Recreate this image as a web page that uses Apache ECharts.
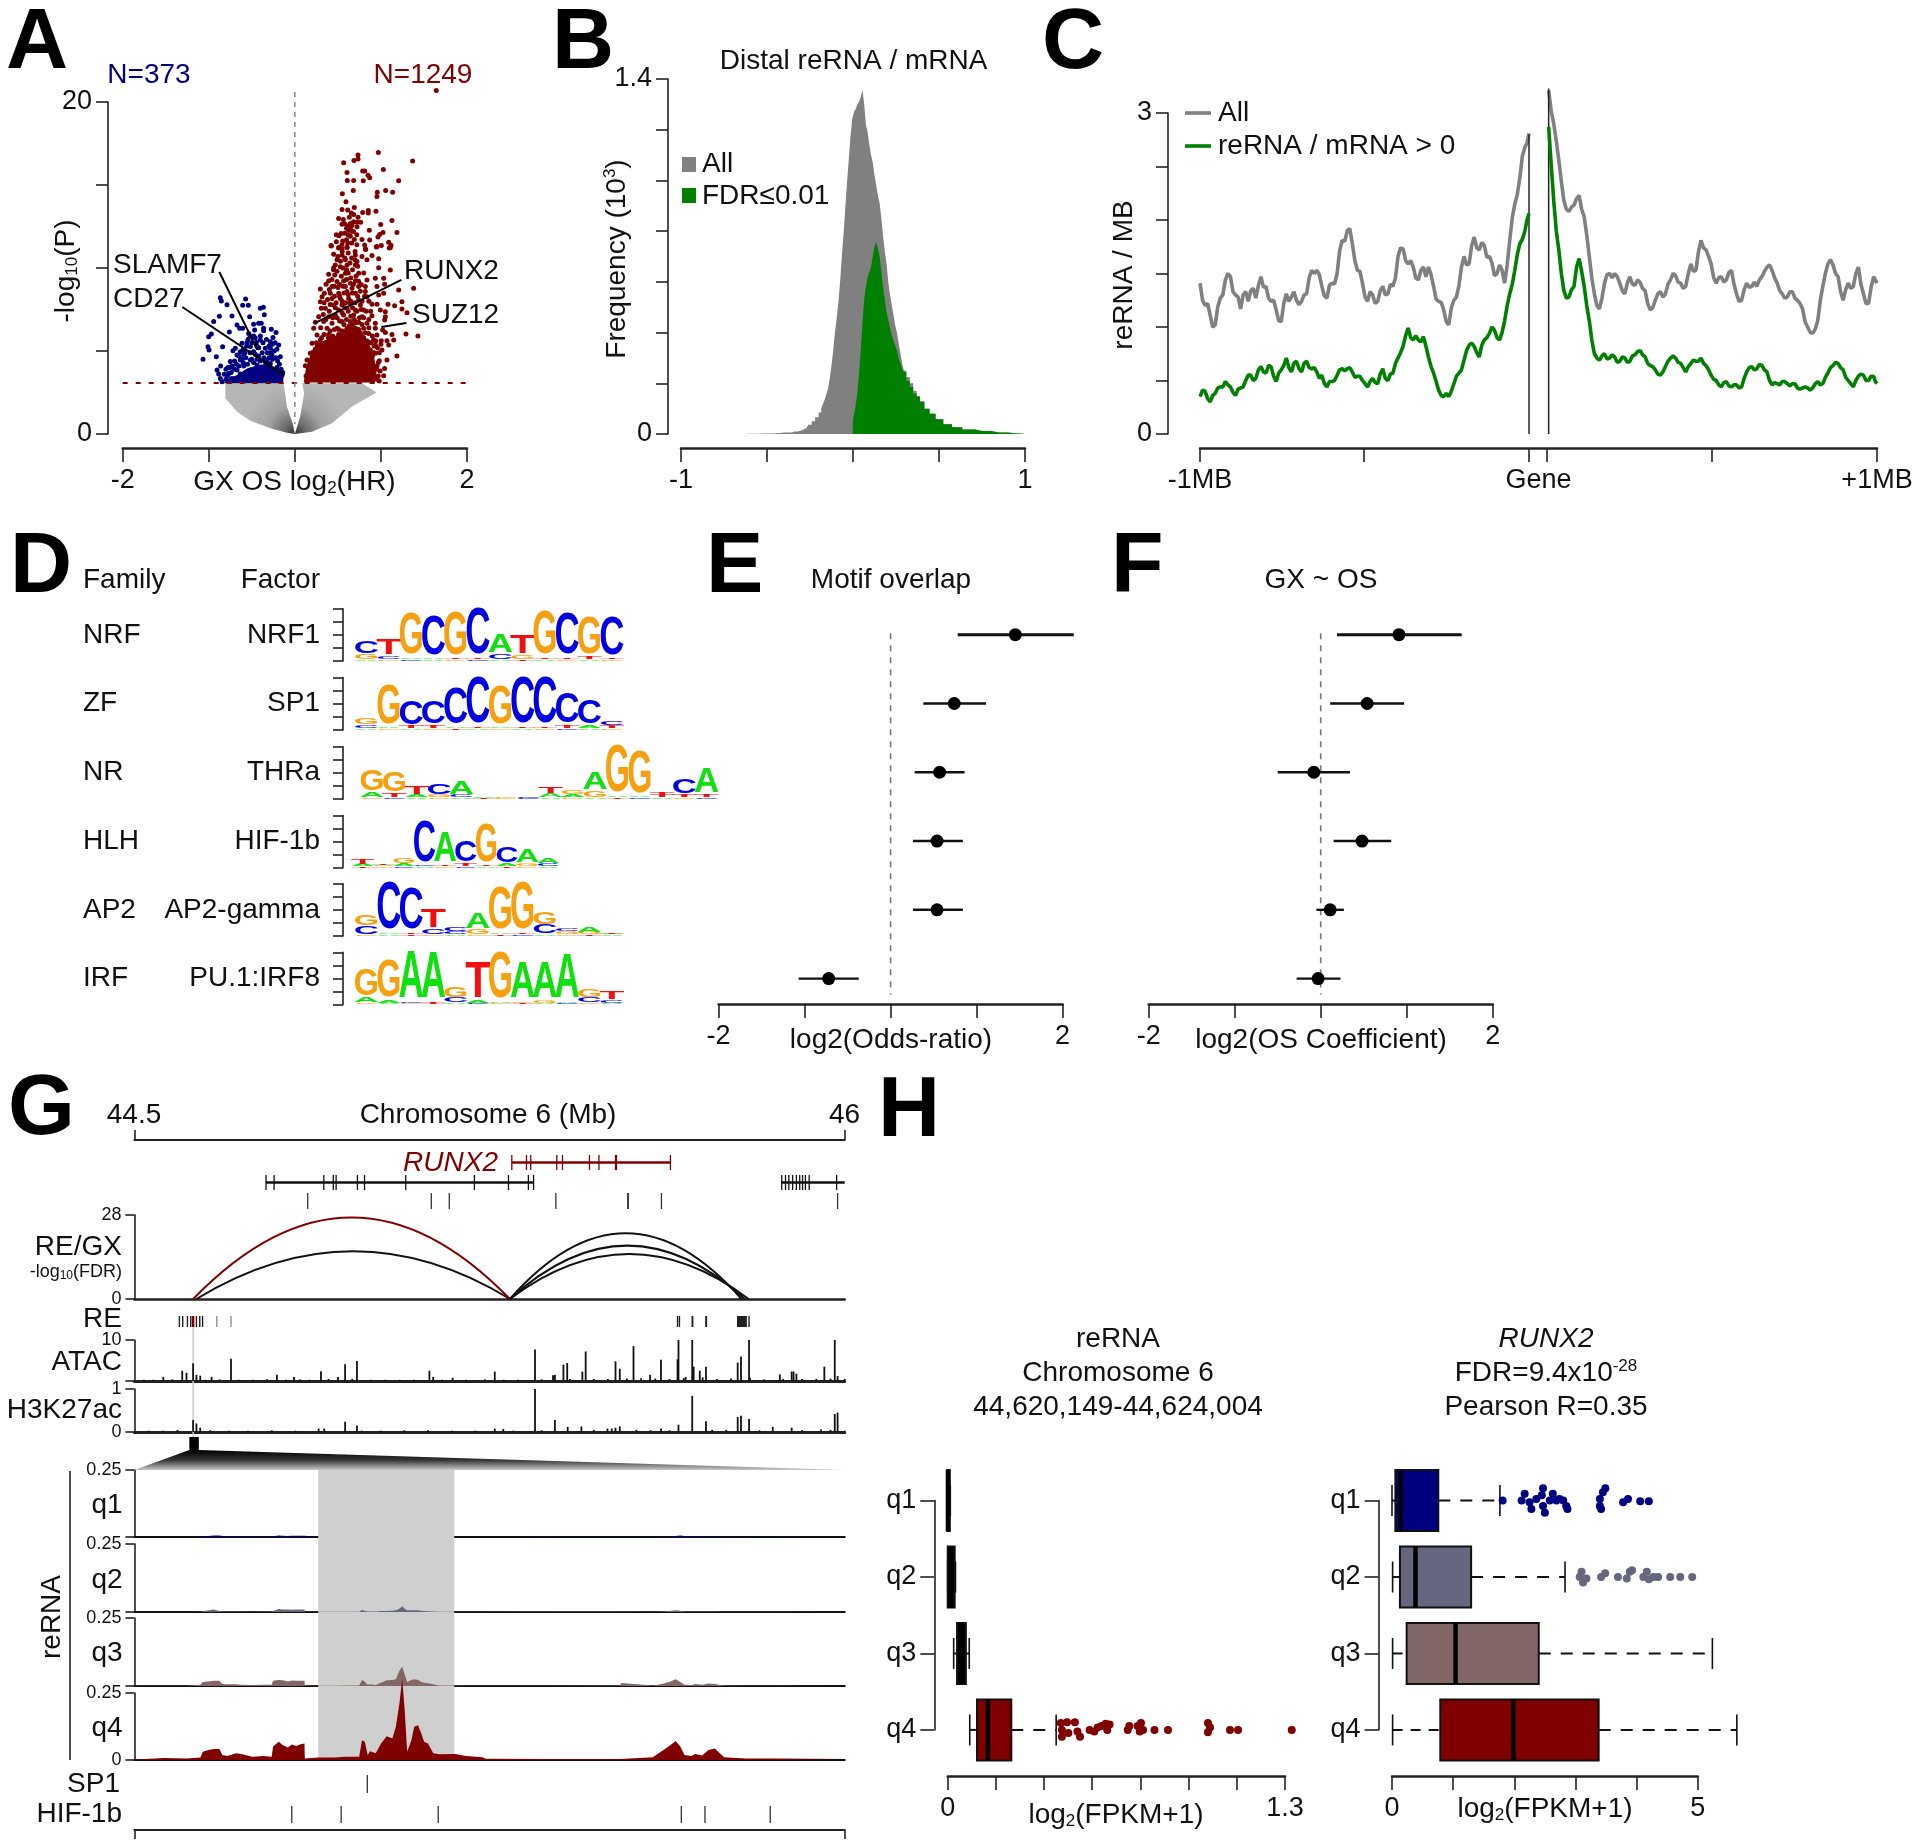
<!DOCTYPE html>
<html><head><meta charset="utf-8">
<style>html,body{margin:0;padding:0;background:#fff}#c{width:1920px;height:1847px}</style>
<script src="https://cdn.jsdelivr.net/npm/echarts@6/dist/echarts.min.js"></script>
</head><body><div id="c"></div>
<script>
// ---------- Panel A: volcano ----------
const volcanoRed=[[1.643,20.70],[.970,16.96],[.734,16.80],[.734,16.56],[.687,16.48],[.567,16.34],[1.368,16.44],[1.028,15.94],[.788,15.84],[.811,15.84],[.606,15.76],[.850,15.58],[.869,15.44],[.610,15.27],[.683,15.27],[.795,15.25],[1.206,15.25],[.679,14.67],[.958,14.57],[1.055,14.67],[1.136,14.57],[.552,14.47],[.954,14.31],[.594,13.99],[.548,13.53],[.614,13.49],[.691,13.65],[.853,13.47],[.853,13.32],[.788,13.34],[.942,13.42],[.656,13.32],[.683,13.22],[.633,13.06],[.734,13.06],[.509,12.98],[.563,12.92],[1.128,12.86],[.683,12.78],[.722,12.76],[.764,12.76],[.645,12.68],[.548,12.64],[.579,12.66],[.625,12.54],[.664,12.58],[.722,12.48],[.997,12.62],[.645,12.38],[.865,12.28],[.664,12.22],[.625,12.28],[1.024,12.14],[1.186,12.14],[.536,12.08],[.482,12.00],[.513,11.94],[.985,12.02],[.645,11.92],[.966,11.86],[.691,11.72],[.780,11.72],[.869,11.68],[.482,11.58],[.556,11.62],[.614,11.50],[.420,11.35],[.548,11.42],[1.090,11.55],[1.117,11.37],[1.004,11.35],[.946,11.27],[.811,11.39],[1.097,11.21],[.606,11.25],[.509,11.21],[.548,11.15],[.823,11.11],
[.424,11.33],[.509,11.23],[.606,11.23],[.819,11.15],[.954,11.29],[1.109,11.23],[.451,10.83],[.548,10.79],[.703,10.79],[.780,10.69],[.896,10.75],[.974,10.55],[.490,10.49],[.587,10.49],[.722,10.39],[.838,10.49],[.470,10.18],[.528,10.08],[.606,10.18],[.703,10.18],[.974,10.02],[1.109,9.88],[.393,9.62],[.463,9.58],[.587,9.68],[.741,9.68],[.451,10.02],[.393,9.22],[.490,9.18],[.567,9.22],[.645,9.08],[.703,9.22],[.838,9.28],[.935,9.38],[1.032,9.38],[.362,9.02],[.432,8.88],[.501,8.82],[.587,8.88],[.664,8.78],[.741,8.88],[.819,8.88],[.296,8.74],[.343,8.48],[.412,8.48],[.509,8.48],[.606,8.58],[.703,8.48],[.819,8.58],[.954,8.88],[1.043,9.02],[1.206,8.68],[1.380,8.78],[.316,8.27],[.432,8.17],[.528,8.17],[.625,8.17],[.741,8.07],[.838,8.27],[.974,8.37],[1.032,8.48],[.296,7.97],[.451,7.77],[.548,7.77],[.645,7.87],[.761,7.77],[.896,7.81],[.954,7.81],[1.082,7.81],[1.159,7.73],[1.244,7.97],[.354,7.57],[.509,7.47],[.606,7.57],[.703,7.47],[.799,7.47],[.993,7.47],[.308,7.57],[1.051,7.37],[1.244,7.53],[1.303,7.31],[.277,7.07],[.393,7.07],[.470,7.17],[.567,7.17],[.683,7.17],[.780,7.07],[.896,7.13],[1.051,7.07],[.238,6.73],[.335,6.77],[.432,6.67],[.548,6.77],[.645,6.77],[.741,6.73],[.838,6.67],[.935,6.67],[1.043,6.87],[.219,6.37],[.374,6.37],[.490,6.37],[.606,6.37],[.703,6.37],[.799,6.37],[.935,6.37],[1.020,6.27],[1.051,6.12],[.258,5.96],[.393,6.00],[.509,6.00],[.625,6.06],[.741,5.96],[.857,6.06],[.954,5.96],[1.128,6.00],[1.291,6.02],[1.430,5.90],[.296,5.66],[.432,5.66],[.587,5.66],[.761,5.66],[.915,5.66],[1.004,5.62],[1.070,5.62],[1.148,5.66],[.200,5.46],[.354,5.36],[.509,5.36],[.664,5.36],[.819,5.36],[.935,5.36],[1.090,5.36],[1.012,5.06],[.238,5.12],[.393,5.06],[.567,5.06],[.741,5.06],[.877,5.06],[1.186,4.70],[.180,4.86],[.335,4.76],[.490,4.76],[.664,4.76],[.819,4.76],[.935,4.86],[.141,4.46],[.122,4.11],[1.043,3.95],[.981,4.41],[1.070,4.46],[.954,4.11],[1.032,3.51],[.935,3.35],
[.25,5.5],[.28,5.3],[.31,5.8],[.34,6.0],[.36,5.5],[.39,5.8],[.41,6.2],[.44,5.9],[.46,6.3],[.48,5.7],[.51,6.3],[.53,5.9],[.55,6.2],[.57,6.6],[.59,6.0],[.61,5.8],[.63,6.5],[.65,6.1],[.67,6.6],[.69,6.0],[.71,6.7],[.72,5.9],[.74,6.3],[.76,6.1],[.78,6.6],[.80,5.8],[.82,6.1],[.84,5.6],[.86,6.4],[.88,5.5],[.90,5.9],[.92,5.3],[.94,5.6],[.96,5.2],[.98,4.9],[.97,4.3],[.95,3.9],[1.0,5.4],[.3,6.4],[.33,7.2],[.36,6.9],[.40,7.4],[.44,7.0],[.47,7.6],[.49,7.0],[.52,6.8],[.55,7.3],[.58,7.6],[.60,6.9],[.62,7.4],[.65,7.1],[.67,7.6],[.69,6.9],[.72,7.4],[.75,7.0],[.77,7.5],[.80,7.0],[.83,7.4],[.86,6.9],[.88,7.4],[.34,7.9],[.38,8.1],[.41,7.8],[.46,8.3],[.48,7.9],[.52,8.3],[.55,8.0],[.57,8.5],[.59,7.9],[.62,8.4],[.65,8.0],[.67,8.5],[.70,7.9],[.73,8.3],[.76,8.6],[.78,8.0],[.81,8.3],[.86,8.0],[.40,8.7],[.43,9.3],[.46,8.9],[.52,9.0],[.54,9.5],[.56,8.9],[.60,9.3],[.62,9.7],[.65,9.4],[.68,9.0],[.71,9.5],[.74,9.2],[.77,9.0],[.45,9.9],[.49,9.8],[.53,10.4],[.56,10.0],[.60,9.9],[.64,10.3],[.67,9.9],[.70,10.5],[.73,10.1],[.80,9.7],[.50,10.7],[.55,11.0],[.58,10.6],[.62,10.9],[.66,10.6],[.70,11.0],[.60,11.7],[.66,11.5],[.72,11.4],[.58,12.1],[.62,12.0],[.68,12.2],[.72,12.0],[.60,12.4],[.15,3.3],[.13,3.5],[.18,4.2],[.20,4.9],[.23,5.0],[.26,5.3],[.95,3.3],[.97,3.5],[.99,3.8],[.98,3.2],[.90,4.7],[.92,4.9]];
const volcanoBlue=[[-.866,8.21],[-.854,8.01],[-.788,7.79],[-.572,8.13],[-.606,7.75],[-.541,7.75],[-.401,7.57],[-.366,7.63],[-.877,7.09],[-.730,7.11],[-.525,7.07],[-.355,7.19],[-.943,6.77],[-.761,6.14],[-.672,6.57],[-.641,6.37],[-.606,6.37],[-.479,6.61],[-.421,6.67],[-.390,6.67],[-.467,6.27],[-.363,6.37],[-.363,6.22],[-.274,6.31],[-.219,6.12],[-.537,6.06],[-.970,6.02],[-1.001,5.86],[-.544,5.70],[-.479,5.90],[-.254,5.82],[-.401,5.66],[-.448,5.52],[-.556,5.50],[-.614,5.46],[-.285,5.56],[-.188,5.36],[-1.009,5.26],[-.997,5.06],[-.839,5.26],[-.692,5.16],[-.517,5.26],[-.208,5.10],[-.719,5.02],[-.634,4.96],[-.479,4.96],[-.343,5.16],[-.285,5.16],[-.912,4.66],[-.672,4.76],[-.595,4.76],[-.421,4.70],[-.266,4.76],[-.169,4.66],[-1.067,4.50],[-.750,4.36],[-.634,4.46],[-.517,4.46],[-.324,4.46],[-.862,4.09],[-.730,4.09],[-.595,4.09],[-.440,4.15],[-.285,4.25],[-.777,4.01],[-.904,3.85],[-.672,3.85],[-.517,3.85],[-.363,3.95],[-.208,4.01],[-.885,3.61],[-.769,3.65],[-.634,3.61],[-.479,3.61],[-.324,3.65],[-.150,3.55],[-.866,3.35],[-.730,3.35],[-.595,3.35],[-.421,3.35],[-.266,3.35],[-.846,3.15],
[-.80,3.3],[-.78,3.5],[-.74,3.7],[-.70,3.9],[-.68,4.2],[-.65,4.1],[-.62,4.5],[-.60,4.3],[-.57,4.6],[-.55,4.2],[-.52,4.9],[-.50,4.5],[-.48,4.3],[-.46,4.8],[-.44,4.5],[-.42,5.2],[-.40,4.4],[-.38,4.9],[-.36,4.6],[-.34,4.3],[-.32,4.9],[-.30,4.6],[-.28,4.9],[-.26,4.5],[-.24,5.0],[-.22,4.6],[-.20,4.4],[-.18,4.2],[-.16,3.9],[-.14,3.7],[-.60,5.1],[-.56,5.3],[-.50,5.5],[-.46,5.8],[-.44,5.3],[-.40,5.9],[-.37,5.5],[-.33,5.7],[-.30,5.3],[-.26,5.4],[-.23,5.5],[-.52,5.9],[-.58,4.9],[-.65,4.7],[-.70,4.4],[-.75,4.0],[-.82,3.6],[-.80,3.9]];
const denseRed=[[.103,3.1],[.13,4.0],[.19,4.9],[.27,5.5],[.38,5.7],[.5,6.0],[.62,6.5],[.74,6.4],[.84,5.7],[.92,4.7],[.95,3.6],[.93,3.1]];
const denseBlue=[[-.827,3.05],[-.769,3.35],[-.672,3.55],[-.556,3.95],[-.421,4.15],[-.305,4.25],[-.208,3.85],[-.130,3.45],[-.138,3.05]];
const denseGreyLeft=[[-.808,3.05],[-.808,2.15],[-.672,1.34],[-.517,.80],[-.285,.34],[-.092,.08],[0,0],[-.025,.64],[-.092,1.64],[-.130,3.05]];
const denseGreyRight=[[.085,3.05],[.78,3.05],[.95,2.5],[.665,1.65],[.433,.65],[.2,.14],[0,0],[.062,1.05],[.108,2.45]];
const significanceP=3.07;
const leaders=[[[-.877,9.76],[-.436,5.06]],[[-1.307,7.65],[-.122,3.55]],[[1.237,9.28],[.238,6.69]],[[1.295,6.69],[1.005,6.45]]];
// ---------- Panel B: histogram ----------
const histAll=[[-.62,.001],[-.58,.001],[-.52,.002],[-.48,.002],[-.44,.004],[-.40,.006],[-.37,.006],[-.34,.010],[-.31,.012],[-.29,.017],[-.27,.024],[-.25,.036],[-.23,.050],[-.21,.066],[-.19,.085],[-.18,.10],[-.17,.118],[-.16,.135],[-.15,.158],[-.14,.178],[-.13,.22],[-.12,.27],[-.11,.33],[-.10,.40],[-.09,.455],[-.08,.52],[-.07,.60],[-.06,.70],[-.05,.79],[-.04,.89],[-.03,.99],[-.02,1.08],[-.01,1.17],[0,1.24],[.01,1.27],[.02,1.28],[.03,1.30],[.04,1.31],[.05,1.33],[.06,1.358],[.07,1.30],[.08,1.22],[.09,1.19],[.10,1.14],[.11,1.10],[.12,1.07],[.13,1.02],[.14,.98],[.15,.94],[.16,.91],[.17,.85],[.18,.78],[.19,.72],[.20,.67],[.21,.60],[.22,.55],[.23,.51],[.24,.47],[.25,.43],[.26,.40],[.27,.36],[.28,.32],[.29,.28],[.30,.25],[.32,.225],[.34,.20],[.36,.17],[.38,.15],[.40,.13],[.43,.10],[.46,.08],[.50,.058],[.55,.038],[.60,.027],[.67,.018],[.75,.012],[.85,.006],[.95,.002],[1,0]];
const histFDR=[[-.002,0],[0,.055],[.01,.075],[.02,.11],[.03,.16],[.04,.24],[.05,.33],[.06,.44],[.07,.53],[.08,.58],[.09,.62],[.10,.64],[.11,.66],[.12,.70],[.13,.74],[.14,.757],[.15,.73],[.16,.70],[.17,.64],[.18,.58],[.19,.53],[.20,.48],[.21,.45],[.22,.42],[.23,.39],[.24,.37],[.25,.35],[.26,.33],[.27,.30],[.28,.28],[.29,.26],[.30,.245],[.32,.21],[.34,.185],[.36,.16],[.38,.147],[.40,.125],[.43,.10],[.46,.08],[.50,.058],[.55,.038],[.60,.027],[.67,.018],[.75,.012],[.85,.006],[.95,.002],[1,0]];
// ---------- Panel C: reRNA density ----------
const cPosLeft=[-1000,-985,-970,-955,-940,-925,-910,-895,-880,-865,-850,-835,-820,-805,-790,-775,-760,-745,-730,-715,-700,-685,-670,-655,-640,-625,-610,-595,-580,-565,-550,-535,-520,-505,-490,-475,-460,-445,-430,-415,-400,-385,-370,-355,-340,-325,-310,-295,-280,-265,-250,-235,-220,-205,-190,-175,-160,-145,-130,-115,-100,-85,-70,-55,-40,-28];
const cPosRight=[30,45,60,75,90,105,120,135,150,165,180,195,210,225,240,255,270,285,300,315,330,345,360,375,390,405,420,435,450,465,480,495,510,525,540,555,570,585,600,615,630,645,660,675,690,705,720,735,750,765,780,795,810,825,840,855,870,885,900,915,930,945,960,975,990,1000];
const cAllLeft=[1.41,1.20,1.11,1.02,1.27,1.44,1.47,1.30,1.17,1.33,1.34,1.27,1.47,1.38,1.24,1.16,1.05,1.31,1.28,1.25,1.24,1.31,1.53,1.53,1.38,1.27,1.41,1.50,1.81,1.90,1.78,1.53,1.41,1.24,1.30,1.24,1.38,1.31,1.38,1.66,1.73,1.59,1.56,1.44,1.56,1.56,1.38,1.24,1.16,1.02,1.25,1.39,1.66,1.59,1.84,1.72,1.76,1.66,1.48,1.58,1.41,1.81,2.15,2.40,2.68,2.81];
const cAllLeftMid=[1.25,1.22,1.00,1.19,1.30,1.50,1.33,1.28,1.30,1.24,1.36,1.39,1.37,1.27,1.25,1.06,1.22,1.24,1.33,1.21,1.30,1.46,1.50,1.49,1.29,1.39,1.40,1.71,1.80,1.92,1.62,1.52,1.28,1.33,1.22,1.34,1.30,1.40,1.46,1.74,1.62,1.62,1.46,1.53,1.47,1.49,1.26,1.23,1.05,1.18,1.28,1.56,1.58,1.76,1.74,1.79,1.65,1.60,1.50,1.53,1.58,2.02,2.24,2.60,2.72];
const cGreenLeft=[.35,.40,.30,.38,.44,.49,.44,.36,.43,.50,.55,.52,.63,.57,.63,.49,.60,.71,.58,.68,.58,.68,.61,.58,.55,.44,.49,.55,.61,.61,.58,.54,.50,.44,.52,.47,.61,.50,.57,.71,.82,.99,.88,.88,.91,.72,.57,.41,.35,.35,.47,.57,.69,.83,.82,.72,.88,.94,.97,.88,1.06,1.31,1.53,1.78,1.90,2.06];
const cGreenLeftMid=[.41,.33,.36,.43,.44,.46,.39,.42,.44,.55,.50,.60,.58,.64,.54,.57,.64,.62,.66,.61,.66,.62,.62,.52,.47,.49,.50,.60,.59,.62,.53,.54,.47,.49,.48,.56,.52,.56,.66,.76,.92,.90,.92,.86,.82,.63,.49,.36,.38,.40,.54,.60,.78,.85,.76,.83,.90,1.00,.90,.95,1.20,1.40,1.68,1.82,2.00];
const cAllRight=[3.21,2.90,2.56,2.18,2.08,2.14,2.23,2.03,1.66,1.31,1.17,1.41,1.50,1.50,1.41,1.31,1.47,1.39,1.42,1.34,1.16,1.25,1.33,1.31,1.44,1.48,1.41,1.38,1.59,1.53,1.81,1.72,1.59,1.41,1.47,1.44,1.53,1.31,1.25,1.41,1.38,1.38,1.47,1.56,1.53,1.41,1.31,1.28,1.33,1.25,1.17,1.00,.94,1.06,1.38,1.59,1.58,1.47,1.25,1.41,1.38,1.56,1.31,1.22,1.47,1.41];
const cAllRightMid=[3.02,2.74,2.36,2.10,2.12,2.20,2.10,1.86,1.46,1.20,1.27,1.49,1.46,1.47,1.34,1.41,1.40,1.44,1.36,1.22,1.18,1.31,1.28,1.40,1.50,1.42,1.36,1.50,1.52,1.70,1.74,1.66,1.46,1.46,1.42,1.51,1.40,1.24,1.35,1.37,1.42,1.44,1.52,1.58,1.46,1.34,1.27,1.33,1.27,1.22,1.05,.95,.98,1.25,1.50,1.63,1.50,1.33,1.35,1.36,1.50,1.40,1.22,1.37,1.48];
const cGreenRight=[2.87,2.18,1.72,1.34,1.28,1.38,1.64,1.38,1.06,.75,.69,.75,.71,.72,.68,.71,.68,.74,.78,.72,.64,.60,.55,.63,.71,.71,.66,.58,.66,.68,.71,.64,.55,.50,.44,.49,.44,.46,.44,.58,.63,.61,.64,.58,.46,.47,.49,.47,.47,.43,.43,.43,.43,.49,.47,.57,.64,.66,.60,.50,.44,.54,.55,.50,.54,.47];
const cGreenRightMid=[2.52,1.90,1.50,1.27,1.35,1.56,1.52,1.20,.88,.71,.73,.70,.74,.67,.72,.67,.73,.77,.74,.66,.63,.56,.58,.68,.73,.67,.62,.63,.69,.68,.66,.60,.51,.46,.48,.45,.46,.43,.52,.62,.60,.65,.60,.50,.48,.46,.49,.45,.47,.42,.44,.41,.47,.46,.53,.62,.67,.62,.53,.47,.50,.56,.50,.54,.49];
// ---------- Panel D: motifs ----------
const families=['NRF','ZF','NR','HLH','AP2','IRF'];
const factors=['NRF1','SP1','THRa','HIF-1b','AP2-gamma','PU.1:IRF8'];
const logoMain=['CTGCGCATGCGC','GGCCCCGCCCCC','GGTCAAGCTGAGGTCA','TTGCACGCAA','GCCTCAGGGCAT','GGAAGTGAAAGT'];
const logoBits=[[.45,.6,1.55,1.5,1.65,1.75,.7,.7,1.65,1.55,1.4,1.45],[.25,1.5,.9,.85,1.35,1.75,1.45,1.75,1.75,1.15,.9,.15],[.8,.75,.3,.4,.5,.02,.02,.03,.25,.15,.65,1.85,1.6,.08,.55,.95],[.18,.03,.18,1.55,1.15,.8,1.45,.6,.5,.18],[.4,1.85,1.55,.7,.15,.6,1.6,1.85,.45,.12,.2,.03],[1.0,1.4,1.85,1.75,.4,1.35,1.75,1.35,1.35,1.7,.3,.3]];
const logoMinor=['GCAATTCGTTTT','CATTATATTTAT','ATAGCTAGAAGAATTT','AAACTTTAGC','CATCCGATCGGA','AACTCAAGGACC'];
const logoMinorBits=[[.18,.12,.05,.05,.03,.05,.2,.15,.05,.05,.08,.06],[.12,.05,.08,.1,.05,.03,.05,.03,.03,.1,.1,.12],[.2,.15,.12,.1,.1,0,0,0,.15,.12,.25,.05,.05,.08,.1,.1],[.08,.03,.1,.03,.05,.12,.05,.1,.12,.1],[.3,.03,.05,.2,.12,.18,.05,.03,.35,.1,.08,.03],[.2,.1,.03,.03,.2,.08,.03,.06,.08,.03,.2,.12]];
const logoLow=['AGCAGCATAGAG','AGAGTAGAGCAG','GCAGATGCAGATCAGC','TGCAGCATGA','GATGAGTCAGTA','GAGTACGTACGA'];
// ---------- Panels E, F ----------
const overlapEst=[1.45,.74,.57,.54,.54,-.72], overlapLo=[.78,.38,.28,.26,.26,-1.07], overlapHi=[2.13,1.11,.86,.84,.84,-.37];
const coefEst=[.91,.54,-.08,.48,.11,-.03], coefLo=[.19,.11,-.5,.15,-.05,-.28], coefHi=[1.64,.97,.34,.82,.27,.23];
// ---------- Panel G ----------
const runx2Span=[45.297,45.632], runx2Exons=[45.297,45.328,45.337,45.392,45.404,45.461,45.481,45.516,45.517,45.518,45.632];
const gene1Span=[44.778,45.343], gene1Exons=[44.778,44.795,44.900,44.920,44.926,44.971,44.986,45.073,45.218,45.290,45.332,45.343];
const gene2Span=[45.867,46], gene2Exons=[45.867,45.875,45.882,45.890,45.898,45.905,45.911,45.917,45.925,45.983];
const otherTicks=[44.866,45.127,45.165,45.390,45.542,45.543,45.613,45.985];
const arcStart=[44.631,44.624,45.293,45.293,45.293], arcEnd=[45.293,45.293,45.782,45.789,45.797], arcFDR=[15.9,27.2,21.9,17.8,15];
const reBlack=[44.595,44.602,44.612,44.619,44.631,44.638,44.644,45.647,45.651,45.678,45.679,45.707,45.708,45.774,45.776,45.778,45.780,45.782,45.784,45.786,45.788,45.790,45.792,45.798];
const reRed=[44.624], reGrey=[44.674,44.704];
const atacPos=[44.561,44.601,44.610,44.624,44.631,44.639,44.663,44.704,44.801,44.837,44.894,44.930,44.945,44.970,45.123,45.131,45.172,45.261,45.346,45.384,45.388,45.406,45.414,45.446,45.453,45.516,45.525,45.554,45.589,45.612,45.647,45.649,45.664,45.678,45.681,45.694,45.707,45.774,45.781,45.798,45.863,45.888,45.892,45.898,45.957,45.979,45.985,
44.52,44.54,44.58,44.65,44.68,44.72,44.75,44.78,44.82,44.85,44.87,44.91,44.96,45.00,45.03,45.06,45.09,45.15,45.20,45.24,45.28,45.31,45.36,45.42,45.47,45.50,45.54,45.57,45.60,45.63,45.66,45.70,45.73,45.76,45.80,45.83,45.87,45.91,45.94,45.97,46.0];
const atacVal=[1,2.5,2,4.3,1.5,1.3,1,5.4,1.5,1,2.4,1,4.1,4.9,2.5,1,.8,2.3,7.7,1.4,1.5,4,4.4,2.3,7.2,4.8,3,8.5,1.5,5.2,5.3,10,1,10,3.5,2.5,3.5,4.5,6,10,1.6,2.3,2.3,1.8,3.5,10,1.2,
.3,.3,.4,.3,.4,.3,.3,.4,.3,.4,.3,.5,.5,.3,.3,.3,.3,.3,.3,.4,.3,.3,.4,.5,.5,.5,.6,.7,.6,.5,.7,.9,.5,.6,.8,.4,.5,.5,.5,.6,.5];
const h3Pos=[45.346,45.678,45.781,45.774,45.798,45.707,45.649,45.388,44.945,44.970,44.624,44.631,44.639,45.979,45.985,45.444,45.415,44.889,44.901,44.591,45.525,45.516,45.508,45.499,45.612,45.848,45.888,45.950,45.261,45.279,
44.53,44.56,44.66,44.70,44.74,44.79,44.84,44.98,45.02,45.07,45.12,45.17,45.22,45.30,45.36,45.47,45.56,45.59,45.63,45.72,45.75,45.82,45.91,45.97,46.0];
const h3Val=[1,.84,.38,.35,.3,.25,.17,.28,.24,.15,.28,.2,.1,.42,.45,.13,.12,.08,.08,.05,.13,.1,.08,.08,.08,.12,.1,.06,.08,.07,
.03,.03,.04,.03,.03,.04,.03,.03,.03,.04,.04,.03,.03,.03,.04,.05,.05,.04,.04,.05,.05,.04,.04,.05,.03];
const qPos=[14.94,15.79,16.42,16.81,16.88,17.04,17.19,17.35,17.43,17.58,17.82,17.97,18.28,18.59,18.83,18.87,19.03,19.14,19.29,19.40,19.53,19.65,19.76,19.77,20.15,20.61,20.92,21.31,21.39,21.47,21.55,21.62,21.78,21.93,22.09,22.25,22.35,22.45,22.53,22.60,22.67,22.79,22.87,22.98,23.07,23.15,23.26,23.41,23.57,24.03,24.34,24.81,24.89,26.68,28.70,28.74,29.63,29.86,30.10,30.28,30.41,30.53,30.72,30.84,31.03,31.21,31.39,31.53,31.65,32.27,33.13,35.07];
const q4Signal=[.002,.007,.006,.009,.031,.037,.041,.041,.019,.015,.025,.022,.012,.015,.012,.050,.068,.056,.047,.058,.052,.059,.062,.006,.009,.009,.012,.012,.074,.068,.019,.033,.025,.062,.089,.080,.124,.210,.303,.186,.031,.074,.124,.130,.099,.068,.062,.025,.021,.022,.015,.010,.005,.004,.004,.010,.010,.031,.052,.071,.050,.019,.015,.022,.017,.037,.043,.025,.010,.006,.006,.004];
const q3Signal=[.001,.001,.001,.005,.015,.017,.019,.019,.007,.006,.006,.005,.004,.005,.005,.019,.022,.021,.017,.020,.019,.019,.019,.002,.001,.001,.002,.002,.022,.017,.005,.006,.004,.012,.021,.022,.025,.056,.071,.043,.015,.022,.025,.022,.015,.012,.010,.006,.002,.002,.001,.001,.001,.001,.002,.011,.002,.006,.015,.025,.015,.005,.004,.007,.005,.009,.007,.004,.002,.001,.001,.001];
const q2Signal=[0,0,0,.001,.003,.006,.009,.004,.002,.002,.002,.002,.001,.002,.002,.005,.011,.009,.009,.008,.009,.009,.009,.001,.001,.001,.001,.001,.007,.005,.002,.002,.002,.004,.004,.005,.006,.012,.021,.012,.006,.006,.006,.006,.005,.004,.003,.002,.001,.001,.001,.001,.001,.002,.002,.001,.001,.002,.004,.006,.005,.002,.002,.002,.002,.002,.002,.001,.001,.001,.001,0];
const q1Signal=[0,0,0,.001,.002,.004,.006,.006,.004,.003,.003,.003,.002,.002,.002,.004,.006,.005,.004,.005,.005,.005,.005,0,0,0,0,0,0,0,0,0,0,0,0,0,0,0,0,0,0,0,0,0,0,0,0,0,0,0,0,0,0,.001,.001,.001,.001,.001,.002,.004,.006,.004,.003,.003,.003,.003,.002,.002,.002,.001,.001,0];
const highlightKb=[20.149,24.004];
const sp1Sites=[21.54], hifSites=[19.40,20.80,23.55,30.44,31.11,32.96];
// ---------- Panel H ----------
const rowLabels=['q1','q2','q3','q4'];
const rerLo=[0,0,.023,.085], rerQ1=[-.002,.0,.036,.113], rerMed=[.001,.012,.052,.155], rerQ3=[.008,.027,.07,.245], rerHi=[.01,.03,.083,.418];
const runLo=[0,.01,.01,.01], runQ1=[.055,.13,.24,.79], runMed=[.14,.384,1.04,1.985], runQ3=[.757,1.294,2.40,3.38], runHi=[1.765,2.83,5.24,5.64];
const rerOutQ4=[[.436,-.09],[.44,0],[.44,.09],[.46,-.1],[.465,.04],[.49,-.1],[.50,.02],[.51,.09],[.547,0],[.565,.02],[.578,-.03],[.593,-.05],[.609,-.08],[.615,0],[.624,-.07],[.694,0],[.70,-.05],[.732,-.05],[.74,.02],[.745,-.09],[.753,0],[.797,0],[.849,0],[1.003,-.09],[1.011,-.03],[1.003,.03],[1.088,0],[1.119,0],[1.326,0]];
const runOutQ1=[[1.81,0],[2.12,0],[2.17,-.09],[2.25,.02],[2.28,.11],[2.36,-.02],[2.47,-.16],[2.47,.07],[2.50,.16],[2.45,-.07],[2.58,0],[2.63,-.09],[2.69,0],[2.74,-.02],[2.80,0],[2.85,.07],[2.87,.11],[3.40,-.02],[3.40,.07],[3.42,.11],[3.45,-.11],[3.49,-.16],[3.78,.02],[3.86,-.02],[4.06,.01],[4.20,.01]];
const runOutQ2=[[3.07,0],[3.10,-.07],[3.125,.07],[3.18,.02],[3.42,0],[3.487,-.05],[3.695,0],[3.84,.02],[3.89,-.07],[3.925,-.09],[4.11,0],[4.167,-.07],[4.2,.03],[4.276,0],[4.353,0],[4.55,0],[4.715,0],[4.91,0]];

// ---------- Styling ----------
const FF='"Liberation Sans",Arial,sans-serif', INK='#111', AX='#222';
const NAVY='#000080', MAROON='#800000', GREEN='#008000', GREY='#808080';
const Q_COL=['#000080','#66667f','#836666','#800000'];
const BASE_COL={A:'#10e010',C:'#0000e0',G:'#f5a010',T:'#f01010'}, BASE_W={A:.722,C:.722,G:.778,T:.611};
const grids=[],xAxis=[],yAxis=[],series=[],graphic=[];
function panel(l,t,w,h,x,y){const i=grids.length;grids.push({left:l,top:t,width:w,height:h});
 xAxis.push(Object.assign({gridIndex:i,type:'value',show:false,splitLine:{show:false}},x));
 yAxis.push(Object.assign({gridIndex:i,type:'value',show:false,splitLine:{show:false}},y));return i;}
function bottomAxis(min,max,ticks,labels,offset,fmt,len){const L=len||14;return {show:true,min,max,position:'bottom',offset,
 axisLine:{show:true,onZero:false,lineStyle:{color:AX,width:2.5}},
 axisTick:{show:true,length:L,customValues:ticks,lineStyle:{color:AX,width:1.6}},
 axisLabel:{show:true,customValues:labels,margin:L+5,fontSize:27,color:INK,fontFamily:FF,formatter:fmt||(v=>String(v))}};}
function leftAxis(min,max,interval,labels,offset,fs,len,inverse,fmt){const L=len||12;return {show:true,min,max,interval,position:'left',offset,inverse:!!inverse,
 axisLine:{show:true,onZero:false,lineStyle:{color:AX,width:1.6}},
 axisTick:{show:true,length:L,lineStyle:{color:AX,width:1.6}},
 axisLabel:{show:!!labels,customValues:labels||undefined,margin:L+4,fontSize:fs||27,color:INK,fontFamily:FF,formatter:fmt||(v=>String(v))}};}
function T(x,y,text,o){o=o||{};graphic.push({type:'text',x,y:y+2,rotation:o.rot||0,silent:true,z:50,style:Object.assign({text,fontFamily:FF,fontSize:o.size||28,fontWeight:o.weight||'normal',fontStyle:o.italic?'italic':'normal',fill:o.color||INK,align:o.align||'center',verticalAlign:'middle'},o.rich?{rich:o.rich}:{})});}
const SUB={s:{fontSize:17,verticalAlign:'bottom',lineHeight:30,fontFamily:FF,fill:INK}};
const SUP={s:{fontSize:17,verticalAlign:'top',lineHeight:30,fontFamily:FF,fill:INK}};
function polygon(g,pts,fill,z){series.push({type:'custom',xAxisIndex:g,yAxisIndex:g,z:z||2,silent:true,animation:false,data:[[pts[0][0],pts[0][1]]],
 renderItem:(p,api)=>({type:'polygon',shape:{points:pts.map(v=>api.coord(v))},style:{fill}})});}
function segments(g,data,color,width,z,dash){series.push({type:'custom',xAxisIndex:g,yAxisIndex:g,z:z||3,silent:true,animation:false,data,
 renderItem:(p,api)=>{const a=api.coord([api.value(0),api.value(1)]),b=api.coord([api.value(0),api.value(2)]);
  return {type:'line',shape:{x1:a[0],y1:a[1],x2:b[0],y2:b[1]},style:{stroke:color,lineWidth:width,lineDash:dash||null}};}});}
function hbars(g,data,color,widthOf,z){series.push({type:'custom',xAxisIndex:g,yAxisIndex:g,z:z||3,silent:true,animation:false,data,
 renderItem:(p,api)=>{const a=api.coord([api.value(0),api.value(2)]),b=api.coord([api.value(1),api.value(2)]);
  return {type:'line',shape:{x1:a[0],y1:a[1],x2:b[0],y2:b[1]},style:{stroke:color,lineWidth:widthOf(p.dataIndex)}};}});}
function path(g,pts,color,width,z,dash){series.push({type:'line',xAxisIndex:g,yAxisIndex:g,z:z||3,silent:true,animation:false,clip:false,symbol:'none',data:pts,lineStyle:{color,width,type:dash||'solid'}});}
function dots(g,pts,color,size,z){series.push({type:'scatter',xAxisIndex:g,yAxisIndex:g,z:z||4,silent:true,animation:false,clip:false,symbol:'circle',symbolSize:size,data:pts,itemStyle:{color,opacity:1}});}
function area(g,pts,color,z,step){series.push({type:'line',xAxisIndex:g,yAxisIndex:g,z:z||3,silent:true,animation:false,clip:false,symbol:'none',data:pts,lineStyle:{width:0,color},areaStyle:{color,opacity:1},step:step||false});}
const zip=(a,b)=>a.map((v,i)=>[v,b[i]]);
const ticks=(a,y0,y1)=>a.map(v=>[v,y0===undefined?0:y0,y1===undefined?1:y1]);
// a line read at its main positions and at the positions half way between them
function fine(pos,val,mid){const out=[];pos.forEach((p,i)=>{out.push([p,val[i]]);if(i<mid.length)out.push([(p+pos[i+1])/2,mid[i]]);});return out;}

// Panel letters
[['A',6,42],['B',552,42],['C',1042,42],['D',10,566],['E',706,566],['F',1111,566],['G',8,1108],['H',878,1110]].forEach(l=>T(l[1],l[2],l[0],{size:86,weight:'bold',align:'left',color:'#000'}));

// A
{const g=panel(122.7,102,344.3,332,bottomAxis(-2,2,[-2,-1,0,1,2],[-2,2],14),leftAxis(0,20,5,[0,20],14.7));
 const stops=[{offset:0,color:'#2e2e2e'},{offset:.22,color:'#6a6a6a'},{offset:.55,color:'#a2a2a2'},{offset:1,color:'#b6b6b6'}];
 polygon(g,denseGreyLeft,{type:'radial',x:1,y:1,r:1,colorStops:stops},2);polygon(g,denseGreyRight,{type:'radial',x:0,y:1,r:1,colorStops:stops},2);
 polygon(g,denseRed,MAROON,3);polygon(g,denseBlue,NAVY,3);
 dots(g,volcanoRed,MAROON,5);dots(g,volcanoBlue,NAVY,5);
 path(g,[[-2,significanceP],[2,significanceP]],MAROON,2,6,[5,8]);
 path(g,[[0,20.6],[0,.6]],'#888',1.5,6,[5,5]);
 leaders.forEach(l=>path(g,l,'#000',2,7));
 T(149,73,'N=373',{color:NAVY});T(423,73,'N=1249',{color:MAROON});
 T(113,263,'SLAMF7',{align:'left'});T(113,297,'CD27',{align:'left'});T(404,269,'RUNX2',{align:'left'});T(412,313,'SUZ12',{align:'left'});
 T(294.5,480,'GX OS log{s|2}(HR)',{rich:SUB});
 T(66,269,'-log{s|10}(P)',{rot:Math.PI/2,rich:SUB});
}
// B
{const g=panel(681,79,344,355,bottomAxis(-1,1,[-1,-.5,0,.5,1],[-1,1],14),leftAxis(0,1.4,.2,[0,1.4],13));
 area(g,histAll,GREY,3,'middle');area(g,histFDR,GREEN,4,'middle');
 T(853.6,59,'Distal reRNA / mRNA');T(617,257,'Frequency (10{s|3})',{rot:Math.PI/2,rich:SUP});
 T(702,162,'All',{align:'left'});T(702,194,'FDR≤0.01',{align:'left'});
 graphic.push({type:'rect',silent:true,z:50,shape:{x:682,y:157,width:14,height:15},style:{fill:GREY}},{type:'rect',silent:true,z:50,shape:{x:682,y:188,width:14,height:15},style:{fill:GREEN}});
}
// C
{const fmt=v=>v===0?'Gene':(v<0?'-1MB':'+1MB');
 const g=panel(1200,113,677,321,bottomAxis(-1000,1000,[-1000,-515,-28,25,512,1000],[-1000,0,1000],14,fmt),leftAxis(0,3,.5,[0,3],32));
 path(g,fine(cPosLeft,cAllLeft,cAllLeftMid),GREY,3.6,3);path(g,fine(cPosRight,cAllRight,cAllRightMid),GREY,3.6,3);
 path(g,[[-28,0],[-28,2.8]],'#222',1.5,4);path(g,[[30,0],[30,3.23]],'#222',1.5,4);
 path(g,fine(cPosLeft,cGreenLeft,cGreenLeftMid),GREEN,3.6,5);path(g,fine(cPosRight,cGreenRight,cGreenRightMid),GREEN,3.6,5);
 T(1124,273,'reRNA / MB',{rot:Math.PI/2});
 T(1218,111,'All',{align:'left'});T(1218,144,'reRNA / mRNA > 0',{align:'left'});
 graphic.push({type:'line',silent:true,z:50,shape:{x1:1185,y1:113,x2:1211,y2:113},style:{stroke:GREY,lineWidth:3.6}},{type:'line',silent:true,z:50,shape:{x1:1185,y1:146,x2:1211,y2:146},style:{stroke:GREEN,lineWidth:3.6}});
}
// D
{const logoTop=[608.7,677.6,746.9,815.5,883.7,952.3], logoLeft=[355.3,355.3,361,352.4,355.3,355.3], colW=[22.3,22.3,22.3,20.6,22.3,22.3], rowMid=[633,701.6,770.5,839,908,976];
 T(83,578,'Family',{align:'left'});T(320,578,'Factor',{align:'right'});
 logoMain.forEach((m,k)=>{
  T(83,rowMid[k],families[k],{align:'left'});T(320,rowMid[k],factors[k],{align:'right'});
  const N=m.length,g=panel(logoLeft[k],logoTop[k],N*colW[k],52.3,{min:0,max:N},leftAxis(0,2,.5,null,logoLeft[k]-343,12,10));
  const letters=[],rows=[];
  for(let c=0;c<N;c++){let b=0;[[logoLow[k][c],.06],[logoMinor[k][c],logoMinorBits[k][c]],[m[c],logoBits[k][c]]].forEach(e=>{if(e[1]>0){letters.push(e[0]);rows.push([c,b,e[1]]);b+=e[1];}});}
  const F=40;
  series.push({type:'custom',xAxisIndex:g,yAxisIndex:g,z:3,silent:true,animation:false,data:rows,renderItem:(p,api)=>{
   const L=letters[p.dataIndex],h=api.size([0,api.value(2)])[1],w=api.size([1,0])[0],c=api.coord([api.value(0)+.5,api.value(1)]);
   return {type:'text',x:c[0],y:c[1]-h/2,scaleX:1.13*w/(BASE_W[L]*F),scaleY:h/(.716*F),style:{text:L,font:'bold '+F+'px "Liberation Sans"',fill:BASE_COL[L],align:'center',verticalAlign:'middle'}};}});
 });
}
// E, F
function forest(left,est,lo,hi,title,label,center){
 const g=panel(left,634.7,344,343.9,bottomAxis(-2,2,[-2,-1,0,1,2],[-2,2],25.4),{min:0,max:5,inverse:true});
 path(g,[[0,-.02],[0,5.23]],'#777',1.6,2,[6,6]);
 hbars(g,est.map((e,i)=>[lo[i],hi[i],i]),'#111',i=>i===0?3:2.4,3);
 dots(g,est.map((e,i)=>[e,i]),'#000',13,4);
 T(center,578,title);T(center,1038,label);
}
forest(718.6,overlapEst,overlapLo,overlapHi,'Motif overlap','log2(Odds-ratio)',891);
forest(1148.7,coefEst,coefLo,coefHi,'GX ~ OS','log2(OS Coefficient)',1321);
// G
const GX=134.4,GW=710.3,gx={min:44.5,max:46};
{
 panel(GX,1130,GW,10,{show:true,min:44.5,max:46,position:'bottom',axisLine:{show:true,onZero:false,lineStyle:{color:AX,width:2}},axisTick:{show:true,inside:true,length:10,customValues:[44.5,46],lineStyle:{color:AX,width:1.6}},axisLabel:{show:false}},{min:0,max:1});
 T(134,1113,'44.5');T(488,1113,'Chromosome 6 (Mb)');T(829,1113,'46',{align:'left'});
 const g1=panel(GX,1155,GW,15,gx,{min:0,max:1});
 path(g1,[[runx2Span[0],.5],[runx2Span[1],.5]],MAROON,2.5,3);segments(g1,ticks(runx2Exons),MAROON,1.3,3);
 T(498,1161,'RUNX2',{align:'right',color:MAROON,italic:true});
 const g2=panel(GX,1175,GW,15,gx,{min:0,max:1});
 path(g2,[[gene1Span[0],.5],[gene1Span[1],.5]],'#111',2.5,3);segments(g2,ticks(gene1Exons),'#111',1.3,3);
 path(g2,[[gene2Span[0],.5],[gene2Span[1],.5]],'#111',2.5,3);segments(g2,ticks(gene2Exons),'#111',1.3,3);
 const g3=panel(GX,1193,GW,16,gx,{min:0,max:1});segments(g3,ticks(otherTicks),'#333',1.3,3);
 // RE/GX arcs
 const gA=panel(GX,1215,GW,84,{show:true,min:44.5,max:46,position:'bottom',axisLine:{show:true,onZero:false,lineStyle:{color:AX,width:2.5}},axisTick:{show:false},axisLabel:{show:false}},leftAxis(0,28,28,[0,28],0,18,9));
 series.push({type:'custom',xAxisIndex:gA,yAxisIndex:gA,z:3,silent:true,animation:false,data:arcStart.map((s,i)=>[s,arcFDR[i],arcEnd[i]]),renderItem:(p,api)=>{
  const s=api.value(0),h=api.value(1),e=api.value(2),a=api.coord([s,0]),b=api.coord([e,0]),c=api.coord([(s+e)/2,2*h]);
  return {type:'bezierCurve',shape:{x1:a[0],y1:a[1],x2:b[0],y2:b[1],cpx1:c[0],cpy1:c[1]},style:{stroke:p.dataIndex===1?MAROON:'#111',lineWidth:2,fill:'none'}};}});
 T(122,1245,'RE/GX',{align:'right'});T(122,1270,'-log{s|10}(FDR)',{align:'right',size:18,rich:{s:{fontSize:12,verticalAlign:'bottom',lineHeight:20,fontFamily:FF,fill:INK}}});
 // RE
 const gR=panel(GX,1316,GW,11,gx,{min:0,max:1});
 segments(gR,ticks(reBlack),'#222',1.4,3);segments(gR,ticks(reGrey),'#888',1.3,3);segments(gR,ticks(reRed),MAROON,2.5,3);
 T(122,1317,'RE',{align:'right'});
 const gL=panel(GX,1327,GW,110,gx,{min:0,max:1});segments(gL,ticks([44.624]),'#ccc',1.5,1);
 // ATAC
 const gT=panel(GX,1340,GW,41,{show:true,min:44.5,max:46,position:'bottom',axisLine:{show:true,onZero:false,lineStyle:{color:AX,width:3}},axisTick:{show:false},axisLabel:{show:false}},leftAxis(0,10,10,[10],0,18,9));
 segments(gT,atacPos.map((p,i)=>[p,0,atacVal[i]]),'#111',1.8,3);
 T(122,1360,'ATAC',{align:'right'});
 // H3K27ac
 const gH=panel(GX,1389,GW,43,{show:true,min:44.5,max:46,position:'bottom',axisLine:{show:true,onZero:false,lineStyle:{color:AX,width:3}},axisTick:{show:false},axisLabel:{show:false}},leftAxis(0,1,1,[0,1],0,18,9));
 segments(gH,h3Pos.map((p,i)=>[p,0,h3Val[i]]),'#111',1.8,3);
 T(122,1408,'H3K27ac',{align:'right'});
 // zoom wedge
 const gB=panel(GX,1437,GW,13,gx,{min:0,max:1});polygon(gB,[[44.616,0],[44.636,0],[44.636,1],[44.616,1]],'#000',3);
 const gW=panel(GX,1450,GW,20,gx,{min:0,max:1});
 polygon(gW,[[44.616,1],[44.636,1],[46,0],[44.5,0]],{type:'linear',x:0,y:0,x2:0,y2:1,colorStops:[{offset:0,color:'#000'},{offset:.5,color:'#333'},{offset:1,color:'#c8c8c8'}]},3);
 // reRNA tracks
 const kbx={min:14.94,max:35.07};
 const gS=panel(GX,1470,GW,290,kbx,{min:0,max:1});
 polygon(gS,[[highlightKb[0],0],[highlightKb[1],0],[highlightKb[1],1],[highlightKb[0],1]],'#cfcfcf',1);
 const tops=[1470,1544,1618,1693],bots=[1537,1612,1686,1760],qMid=[1503,1578,1651,1726],sig=[q1Signal,q2Signal,q3Signal,q4Signal];
 sig.forEach((s,k)=>{
  const g=panel(GX,tops[k],GW,bots[k]-tops[k],{show:true,min:14.94,max:35.07,position:'bottom',axisLine:{show:true,onZero:false,lineStyle:{color:'#111',width:2.2}},axisTick:{show:false},axisLabel:{show:false}},leftAxis(0,.25,.25,k===3?[0,.25]:[.25],0,18,9));
  area(g,zip(qPos,s),Q_COL[k],5);
  T(107,qMid[k],rowLabels[k]);
 });
 T(52,1615,'reRNA',{rot:Math.PI/2});
 graphic.push({type:'line',silent:true,z:50,shape:{x1:70,y1:1471,x2:70,y2:1760},style:{stroke:'#222',lineWidth:1.6}});
 // sites
 const gP=panel(GX,1775,GW,18,kbx,{min:0,max:1});segments(gP,ticks(sp1Sites),'#333',1.3,3);T(120,1782,'SP1',{align:'right'});
 const gF=panel(GX,1806,GW,17,kbx,{min:0,max:1});segments(gF,ticks(hifSites),'#333',1.3,3);T(122,1812,'HIF-1b',{align:'right'});
 panel(GX,1830,GW,9,{show:true,min:14.94,max:35.07,position:'top',axisLine:{show:true,onZero:false,lineStyle:{color:AX,width:2}},axisTick:{show:true,inside:true,length:9,customValues:[14.94,35.07],lineStyle:{color:AX,width:1.6}},axisLabel:{show:false}},{min:0,max:1});
 series.push({type:'line',xAxisIndex:grids.length-1,yAxisIndex:grids.length-1,data:[],silent:true});
}
// H
function boxes(left,width,xmax,xticks,xlabels,yAxisOff,lo,q1,med,q3,hi,cols,capH,boxH){
 const g=panel(left,1500.6,width,229.3,bottomAxis(0,xmax,xticks,xlabels,46,v=>String(v)),leftAxis(0,3,1,null,yAxisOff,27,14,true));
 yAxis[g].axisLabel={show:true,margin:18,fontSize:27,color:INK,fontFamily:FF,formatter:v=>rowLabels[v]};
 series.push({type:'custom',xAxisIndex:g,yAxisIndex:g,z:3,silent:true,animation:false,data:lo.map((v,i)=>[v,i]),renderItem:(p,api)=>{
  const i=p.dataIndex,C=(x)=>api.coord([x,i]),m=C(lo[i])[1];
  const ln=(a,b,w,dash)=>({type:'line',shape:{x1:a,y1:m,x2:b,y2:m},style:{stroke:'#111',lineWidth:w,lineDash:dash||null}});
  const cap=(a)=>({type:'line',shape:{x1:a,y1:m-capH/2,x2:a,y2:m+capH/2},style:{stroke:'#111',lineWidth:1.6}});
  const a=C(q1[i])[0],b=C(q3[i])[0],md=C(med[i])[0];
  return {type:'group',children:[ln(C(lo[i])[0],a,2,[10,8]),ln(b,C(hi[i])[0],2,[12,10]),cap(C(lo[i])[0]),cap(C(hi[i])[0]),
   {type:'rect',shape:{x:a,y:m-boxH/2,width:b-a,height:boxH},style:{fill:cols[i],stroke:'#111',lineWidth:2}},
   {type:'line',shape:{x1:md,y1:m-boxH/2,x2:md,y2:m+boxH/2},style:{stroke:'#000',lineWidth:4.5}}]};}});
 return g;
}
{
 const gl=boxes(947.7,337.3,1.3,[0,.1857,.3714,.5571,.7429,.9286,1.1143,1.3],[0,1.3],13.4,rerLo,rerQ1,rerMed,rerQ3,rerHi,['#000','#000','#000',MAROON],31,61);
 dots(gl,rerOutQ4.map(p=>[p[0],3+p[1]]),MAROON,8,5);
 const gr=boxes(1392,305.7,5,[0,1,2,3,4,5],[0,5],13.4,runLo,runQ1,runMed,runQ3,runHi,Q_COL,31,61);
 dots(gr,runOutQ1.map(p=>[p[0],0+p[1]]),NAVY,8,5);dots(gr,runOutQ2.map(p=>[p[0],1+p[1]]),Q_COL[1],8,5);
 T(1118,1337,'reRNA');T(1118,1371,'Chromosome 6');T(1118,1405,'44,620,149-44,624,004');
 T(1546,1337,'RUNX2',{italic:true});T(1546,1371,'FDR=9.4x10{s|-28}',{rich:SUP});T(1546,1405,'Pearson R=0.35');
 T(1116,1813,'log{s|2}(FPKM+1)',{rich:SUB});T(1545,1807,'log{s|2}(FPKM+1)',{rich:SUB});
}
const chart=echarts.init(document.getElementById('c'),null,{renderer:'canvas',width:1920,height:1847});
chart.setOption({animation:false,backgroundColor:'#fff',textStyle:{fontFamily:FF},grid:grids,xAxis,yAxis,series,graphic});
</script></body></html>
